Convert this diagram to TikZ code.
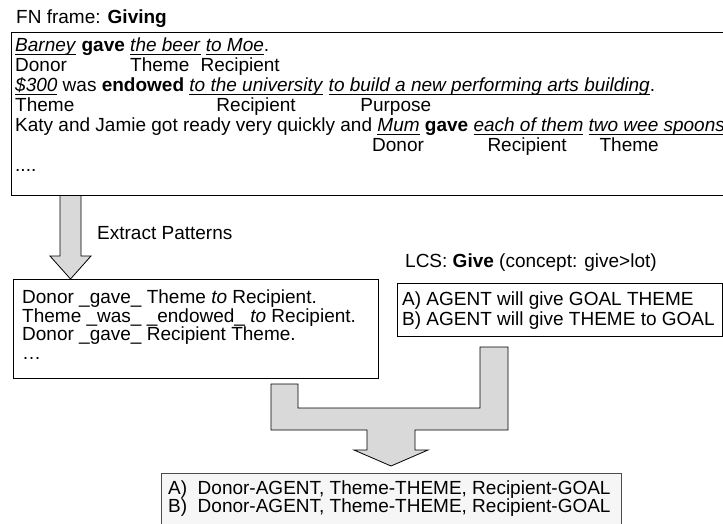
\documentclass[tikz,border=0pt]{standalone}
\usepackage{fontspec}
\setmainfont{Liberation Sans}
\usetikzlibrary{positioning, calc}

% underlined phrase: fixed rule just under the baseline
\newsavebox{\ulbox}
\newcommand{\uwords}[1]{\sbox{\ulbox}{#1}\rlap{\rule[-3.2pt]{\wd\ulbox}{1.1pt}}\usebox{\ulbox}}
% role name set under a sentence: width of the text before it, then the name
\newcommand{\roleat}[2]{\rlap{\hphantom{#1}#2}}

\definecolor{arrowgray}{RGB}{217,217,217}
\definecolor{resultgray}{RGB}{246,246,246}

\begin{document}
\begin{tikzpicture}[x=1pt, y=-1pt,
    box/.style={draw, line width=1pt, anchor=north west, inner sep=0pt},
    txt/.style={align=left, inner sep=0pt, anchor=north west, font=\fontsize{19}{19.5}\selectfont},
    blockarrow/.style={draw, line width=0.8pt, fill=arrowgray, line join=miter}]
\useasboundingbox (0,0) rectangle (723,523);

% FrameNet examples (right side runs off the page)
\node[box, minimum width=749pt, minimum height=163pt] (frame) at (11,32) {};
\node[txt, anchor=base west] (framelabel) at (16,23) {FN frame: \textbf{Giving}};
\node[txt, below right=6pt and 4pt of frame.north west, font=\fontsize{19}{20}\selectfont] (giving) {%
  \uwords{\textit{Barney}} \textbf{gave} \uwords{\textit{the beer}} \uwords{\textit{to Moe}}.\\
  \roleat{}{Donor}\roleat{\textit{Barney} \textbf{gave} }{Theme}\roleat{\textit{Barney} \textbf{gave} \textit{the beer}}{Recipient}\\
  \uwords{\textit{\$300}} was \textbf{endowed} \uwords{\textit{to the university}} \uwords{\textit{to build a new performing arts building}}.\\
  \roleat{}{Theme}\roleat{\textit{\$300} was \textbf{endowed} \textit{to t}}{Recipient}\roleat{\textit{\$300} was \textbf{endowed} \textit{to the university} \textit{to b}}{Purpose}\\
  Katy and Jamie got ready very quickly and \uwords{\textit{Mum}} \textbf{gave} \uwords{\textit{each of them}} \uwords{\textit{two wee spoons}}\\
  \roleat{Katy and Jamie got ready very quickly and}{Donor}\roleat{Katy and Jamie got ready very quickly and \textit{Mum} \textbf{gave} \hspace{14pt}}{Recipient}\roleat{Katy and Jamie got ready very quickly and \textit{Mum} \textbf{gave} \textit{each of them} \hspace{11pt}}{Theme}\\
  ....};

% extracted patterns
\node[box, minimum width=365pt, minimum height=99pt] (patterns) at (13,279) {};
\node[txt, below right=11pt and 9pt of patterns.north west, font=\fontsize{19}{18.5}\selectfont] (patterntxt) {%
  Donor \_gave\_ Theme \textit{to} Recipient.\\
  Theme \_was\_ \_endowed\_ \textit{to} Recipient.\\
  Donor \_gave\_ Recipient Theme.\\
  …};

% LCS entry
\node[txt, anchor=base west] (lcslabel) at (405,267) {LCS: \textbf{Give} (concept: give>lot)};
\node[box, minimum width=325pt, minimum height=53pt] (lcs) at (397,283) {};
\node[txt, below right=9pt and 5pt of lcs.north west, font=\fontsize{19}{20}\selectfont] (lcstxt) {%
  A) AGENT will give GOAL THEME\\
  B) AGENT will give THEME to GOAL};

% mapping (bottom edge runs off the page)
\node[box, draw=black!70, fill=resultgray, minimum width=460pt, minimum height=60pt] (result) at (161,473) {};
\node[txt, below right=8pt and 7pt of result.north west, font=\fontsize{19}{18}\selectfont] (resulttxt) {%
  A)\ \ Donor-AGENT, Theme-THEME, Recipient-GOAL\\
  B)\ \ Donor-AGENT, Theme-THEME, Recipient-GOAL};

% Arrows:
\draw[blockarrow] (60,0 |- frame.south) -- (60,256) -- (50,256) -- (70.5,0 |- patterns.north)
                  -- (91,256) -- (81,256) -- (81,0 |- frame.south);
\node[txt, anchor=base west] (extract) at (97,239) {Extract Patterns};

\draw[blockarrow] (271,384) -- (298,384) -- (298,408) -- (480,408) -- (480,347) -- (508,347)
                  -- (508,430) -- (415,430) -- (415,450) -- (428,450) -- (391,466)
                  -- (354,450) -- (367,450) -- (367,430) -- (271,430) -- cycle;
\end{tikzpicture}
\end{document}
